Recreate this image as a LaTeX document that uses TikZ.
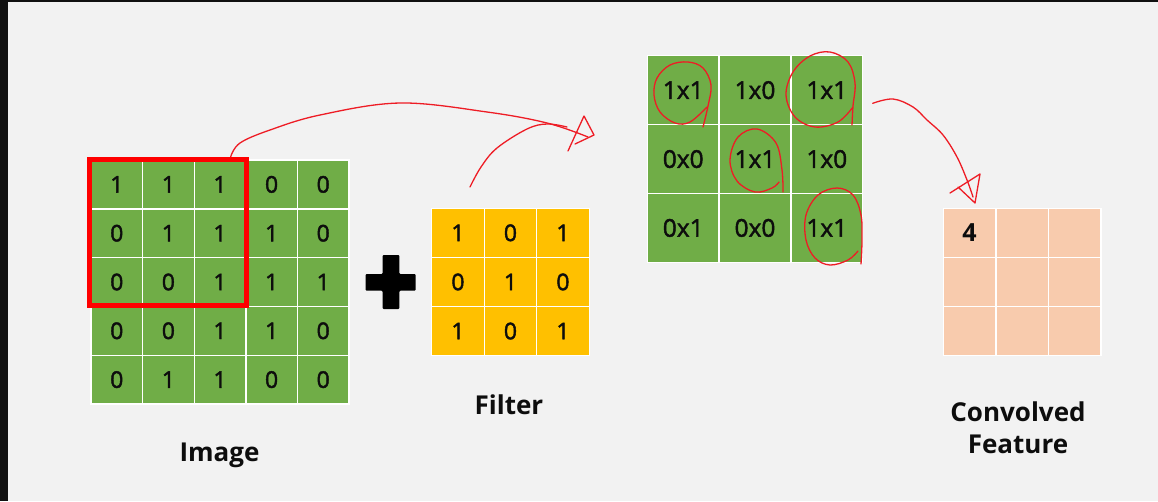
\documentclass[tikz,border=0pt]{standalone}
\usepackage{fontspec}
\setmainfont{Open Sans}
\newfontfamily\cellfont[FakeBold=1.8]{Open Sans}
\usetikzlibrary{calc}
\definecolor{bg}{HTML}{F2F2F2}
\definecolor{edge}{HTML}{111111}
\definecolor{cgreen}{HTML}{70AD47}
\definecolor{cyellow}{HTML}{FFC000}
\definecolor{cpeach}{HTML}{F8CBAD}
\definecolor{pen}{HTML}{EE1C25}
\definecolor{ink}{HTML}{0D0D0D}
\begin{document}
\begin{tikzpicture}[x=1pt,y=-1pt,
  cell/.style={draw=white, line width=1.4pt, inner sep=0pt, outer sep=0pt, text=ink,
    font=\cellfont\fontsize{23}{23}\selectfont},
  pcell/.style={cell, fill=cgreen, minimum width=71.8pt, minimum height=68.9pt,
    font=\cellfont\fontsize{24.5}{24.5}\selectfont},
  lbl/.style={text=ink, font=\bfseries\fontsize{26}{32}\selectfont, inner sep=0pt, align=center},
  hand/.style={draw=pen, line width=1.3pt, line cap=round, line join=round}]
% canvas
\useasboundingbox (0,0) rectangle (1158,501);
\fill[bg] (0,0) rectangle (1158,501);
\fill[edge] (0,0) rectangle (8,501);
\fill[edge] (0,0) rectangle (1158,2);
% image grid
\foreach \row [count=\r] in {{1,1,1,0,0},{0,1,1,1,0},{0,0,1,1,1},{0,0,1,1,0},{0,1,1,0,0}}{
  \foreach \v [count=\c] in \row {
    \node[cell, fill=cgreen, minimum width=51.6pt, minimum height=48.8pt]
      (img-\r-\c) at ({91+(\c-0.5)*51.6},{160+(\r-0.5)*48.8}) {\v};
  }
}
% window
\node[draw=red, line width=5pt, minimum width=156.7pt, minimum height=145.4pt, inner sep=0pt]
  (win) at (168.15,232.5) {};
% plus sign
\fill[black, rounded corners=1pt] (382.7,255) -- (399.3,255) -- (399.3,274) -- (415.7,274)
  -- (415.7,290.7) -- (399.3,290.7) -- (399.3,309) -- (382.7,309) -- (382.7,290.7)
  -- (365.7,290.7) -- (365.7,274) -- (382.7,274) -- cycle;
% filter grid
\foreach \row [count=\r] in {{1,0,1},{0,1,0},{1,0,1}}{
  \foreach \v [count=\c] in \row {
    \node[cell, fill=cyellow, minimum width=52.5pt, minimum height=49.1pt]
      (flt-\r-\c) at ({431.7+(\c-0.5)*52.5},{208.3+(\r-0.5)*49.1}) {\v};
  }
}
% product grid
\foreach \row [count=\r] in {{1x1,1x0,1x1},{0x0,1x1,1x0},{0x1,0x0,1x1}}{
  \foreach \v [count=\c] in \row {
    \node[pcell] (prd-\r-\c) at ({647.3+(\c-0.5)*71.8},{55.7+(\r-0.5)*68.9}) {\v};
  }
}
% output grid
\foreach \row [count=\r] in {{4,,},{,,},{,,}}{
  \foreach \v [count=\c] in \row {
    \node[cell, fill=cpeach, minimum width=52.5pt, minimum height=49.1pt,
      font=\bfseries\fontsize{25}{25}\selectfont]
      (out-\r-\c) at ({943.3+(\c-0.5)*52.5},{208.3+(\r-0.5)*49.1}) {\v};
  }
}
% labels
\node[lbl, anchor=base] (imglbl) at (219.5,461.7) {Image};
\node[lbl, anchor=base] (fltlbl) at (509,414.3) {Filter};
\node[lbl, anchor=base] (cnvlbl) at (1018,421) {Convolved};
\node[lbl, anchor=base] (feilbl) at (1018,453) {Feature};
% hand-drawn arrows
\coordinate (a1s) at (230.7,156.7);
\coordinate (a1e) at (588,137);
\coordinate (a2s) at (470,187);
\coordinate (a2e) at (567,127);
\coordinate (a3s) at (872.7,103.3);
\coordinate (a3e) at (973,197);
\draw[hand] plot[smooth, tension=0.6] coordinates {(a1s) (240,143) (270,130) (320,115) (400,103) (487,112) (547,123) (a1e)};
\draw[hand] (568,151) -- (584,116) -- (594,135) -- (575,144);
\draw[hand] plot[smooth, tension=0.6] coordinates {(a2s) (481,167) (497,148) (527,129) (547,124) (a2e)};
\draw[hand] plot[smooth, tension=0.6] coordinates {(a3s) (893,99) (913,107) (927,120) (943,135) (957,157) (967,180) (a3e)};
\draw[hand] (950,193) -- (980,174) -- (975,203) -- (958,187);
% circles round the products
\draw[hand] plot[smooth, tension=0.6] coordinates {(703,127) (708,106) (711,85) (703,68) (688,62) (670,65) (657,78) (654,95) (660,112) (675,123) (690,122) (707,107)};
\draw[hand] plot[smooth, tension=0.6] coordinates {(852,125) (853,106) (855,83) (848,62) (830,52) (810,56) (793,72) (786,95) (795,117) (815,127) (838,122) (853,107)};
\draw[hand] plot[smooth, tension=0.6] coordinates {(783,192) (782,170) (776,143) (757,129) (738,137) (730,160) (737,181) (755,192) (772,188) (779,182)};
\draw[hand] plot[smooth, tension=0.6] coordinates {(861,264) (862,240) (861,215) (853,195) (837,188) (818,195) (806,215) (806,240) (815,258) (830,265) (848,260) (858,251)};
\end{tikzpicture}
\end{document}
